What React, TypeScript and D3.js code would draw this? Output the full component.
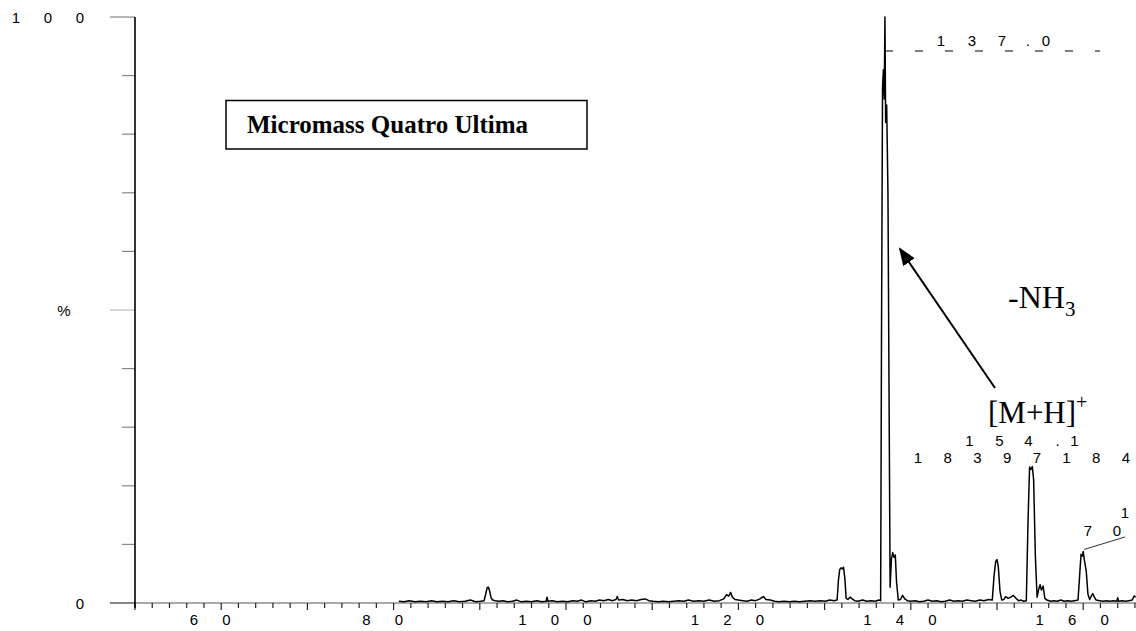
import React from 'react';
import * as d3 from 'd3';

// Mass spectrum profile: [m/z, relative intensity %]
const spectrum: [number, number][] = [
  [80.6, 0.3], [81.2, 0.2], [81.8, 0.4], [82.5, 0.2], [83.1, 0.3], [83.8, 0.2], [84.4, 0.4], [85.0, 0.2],
  [85.7, 0.3], [86.3, 0.2], [87.0, 0.4], [87.6, 0.2], [88.3, 0.3], [88.9, 0.5], [89.5, 0.2], [90.1, 0.3],
  [90.5, 0.4], [90.7, 1.6], [90.85, 2.6], [91.0, 2.7], [91.15, 2.0], [91.3, 0.9], [91.5, 0.5], [91.8, 0.4],
  [92.2, 0.3], [92.7, 0.4], [93.2, 0.2], [93.8, 0.3], [94.3, 0.5], [94.8, 0.2], [95.4, 0.3], [96.0, 0.2],
  [96.6, 0.4], [97.2, 0.2], [97.7, 0.3], [97.8, 1.0], [97.9, 0.3], [98.4, 0.4], [99.0, 0.2], [99.6, 0.3],
  [100.2, 0.2], [100.8, 0.4], [101.3, 0.3], [101.8, 0.5], [102.3, 0.2], [102.9, 0.4], [103.4, 0.3], [103.9, 0.5],
  [104.4, 0.4], [104.9, 0.6], [105.4, 0.4], [105.8, 0.6], [105.95, 1.1], [106.1, 0.5], [106.6, 0.6], [107.1, 0.4],
  [107.6, 0.5], [108.2, 0.4], [108.7, 0.6], [109.2, 0.7], [109.6, 0.4], [110.1, 0.3], [110.7, 0.2], [111.3, 0.3],
  [111.9, 0.2], [112.5, 0.3], [113.1, 0.4], [113.7, 0.3], [114.2, 0.5], [114.8, 0.3], [115.4, 0.4], [116.0, 0.3],
  [116.6, 0.5], [117.2, 0.3], [117.8, 0.4], [118.3, 0.7], [118.6, 1.4], [118.9, 1.2], [119.1, 1.8], [119.3, 1.0],
  [119.6, 0.6], [120.0, 0.5], [120.5, 0.4], [121.0, 0.3], [121.5, 0.5], [122.0, 0.4], [122.5, 0.7], [122.9, 1.1],
  [123.2, 0.6], [123.7, 0.5], [124.2, 0.3], [124.7, 0.2], [125.3, 0.3], [125.9, 0.2], [126.5, 0.3], [127.1, 0.2],
  [127.7, 0.3], [128.3, 0.4], [128.9, 0.3], [129.5, 0.4], [130.1, 0.3], [130.6, 0.5], [131.1, 0.4], [131.45, 0.5],
  [131.6, 3.8], [131.75, 5.7], [131.9, 6.0], [132.05, 5.8], [132.2, 6.1], [132.35, 4.2], [132.5, 0.8], [132.7, 0.6],
  [132.95, 1.0], [133.2, 0.7], [133.5, 0.4], [133.9, 0.3], [134.4, 0.5], [134.9, 0.3], [135.4, 0.4], [135.9, 0.3],
  [136.3, 0.5], [136.5, 0.4], [136.6, 45], [136.72, 88], [136.82, 91], [136.92, 86], [137.0, 100], [137.08, 82],
  [137.2, 85], [137.35, 70], [137.6, 2.7], [137.75, 7.5], [137.9, 8.6], [138.05, 7.8], [138.2, 8.2], [138.35, 3.5],
  [138.55, 0.5], [138.8, 0.6], [139.05, 1.3], [139.3, 0.7], [139.6, 0.4], [140.0, 0.3], [140.5, 0.4], [141.0, 0.2],
  [141.5, 0.3], [142.0, 0.5], [142.5, 0.3], [143.0, 0.4], [143.5, 0.2], [144.0, 0.3], [144.5, 0.5], [145.0, 0.3],
  [145.5, 0.4], [146.0, 0.3], [146.5, 0.5], [147.0, 0.4], [147.5, 0.3], [148.0, 0.5], [148.5, 0.4], [149.0, 0.6],
  [149.45, 0.5], [149.65, 4.5], [149.85, 7.1], [150.0, 7.4], [150.15, 6.2], [150.35, 2.0], [150.55, 0.5], [150.8, 0.6],
  [151.0, 1.1], [151.3, 0.8], [151.6, 1.0], [151.9, 1.3], [152.2, 0.8], [152.5, 0.4], [152.8, 0.5], [153.1, 0.3],
  [153.4, 0.4], [153.6, 14], [153.78, 23.2], [153.95, 22.8], [154.1, 23.3], [154.25, 21], [154.45, 8], [154.65, 1.0],
  [154.85, 2.4], [155.0, 3.1], [155.15, 2.2], [155.35, 2.9], [155.55, 0.8], [155.8, 0.5], [156.2, 0.3], [156.6, 0.4],
  [157.0, 0.3], [157.4, 0.5], [157.8, 0.3], [158.2, 0.4], [158.6, 0.3], [159.0, 0.4], [159.4, 0.5], [159.6, 5.0],
  [159.75, 8.3], [159.9, 8.0], [160.0, 8.8], [160.15, 7.2], [160.35, 5.5], [160.55, 1.5], [160.75, 0.6], [160.95, 1.2],
  [161.1, 1.6], [161.3, 1.0], [161.5, 0.5], [161.9, 0.4], [162.3, 0.3], [162.7, 0.4], [163.1, 0.3], [163.5, 0.4],
  [163.9, 0.3], [164.0, 0.9], [164.1, 0.3], [164.5, 0.4], [164.9, 0.3], [165.3, 0.4], [165.7, 0.5], [165.9, 1.2],
  [166.1, 1.0],
];

const xTickLabels = [60, 80, 100, 120, 140, 160];
const yTickValues = [0, 10, 20, 30, 40, 50, 60, 70, 80, 90, 100];
const yLabelTop = '100';
const yLabelBottom = '0';
const yAxisTitle = '%';
const basePeak = { mz: 137.0, label: '137.0' };
const mhPeak = { mz: 154.0, label: '154.1', extra: '18397184' };
const rightPeak = { mz: 160.0, pct: 8.8 };
const instrument = 'Micromass Quatro Ultima';

const SANS = 'Arial, "Liberation Sans", sans-serif';
const SERIF = '"Times New Roman", "Liberation Serif", serif';

export default function App() {
  const W = 1136;
  const H = 631;
  const x = d3.scaleLinear().domain([50, 166.125]).range([135, 1136]);
  const y = d3.scaleLinear().domain([0, 100]).range([603, 17]);
  const line = d3
    .line<[number, number]>()
    .x((d) => x(d[0]))
    .y((d) => y(d[1]));

  const minorX = d3.range(50, 167, 2);
  const charStep = 32.5;

  const spaced = (s: string, cx: number, cy: number, step: number, key: string) =>
    s.split('').map((c, i) => (
      <text
        key={key + i}
        x={cx + (i - (s.length - 1) / 2) * step}
        y={cy}
        textAnchor="middle"
        dominantBaseline="central"
        fontFamily={SANS}
        fontSize={15}
        fill="#000"
      >
        {c}
      </text>
    ));

  const px137 = x(basePeak.mz);
  const px154 = x(mhPeak.mz);
  const baseOffsets = [56, 87, 117, 143, 161];
  const mhOffsets = [-62, -32, -3, 26, 43];

  return (
    <svg
      width={W}
      height={H}
      style={{ position: 'absolute', left: 0, top: 0, background: '#fff' }}
    >
      {/* y axis ticks */}
      {yTickValues.map((v) => {
        const long = v === 100 || v === 50 || v === 0;
        return (
          <line
            key={'yt' + v}
            x1={long ? 110 : 122}
            x2={135}
            y1={y(v)}
            y2={y(v)}
            stroke={v === 50 ? '#bbb' : '#888'}
            strokeWidth={1.2}
          />
        );
      })}
      {/* x axis */}
      <line x1={110} x2={W} y1={y(0)} y2={y(0)} stroke="#555" strokeWidth={1} />
      {minorX.map((v) => (
        <line
          key={'xt' + v}
          x1={x(v)}
          x2={x(v)}
          y1={y(0)}
          y2={y(0) + (v % 10 === 0 ? 7 : 5)}
          stroke="#222"
          strokeWidth={1.2}
        />
      ))}
      {/* y axis line */}
      <line x1={135} x2={135} y1={y(100)} y2={y(0) + 5} stroke="#000" strokeWidth={1.6} />

      {/* tick labels */}
      {xTickLabels.map((v) => spaced(String(v), x(v) - 11, 619, charStep, 'xl' + v))}
      {yLabelTop.split('').map((c, i) => (
        <text key={'yl' + i} x={80 - (yLabelTop.length - 1 - i) * 32} y={y(100)} textAnchor="middle"
          dominantBaseline="central" fontFamily={SANS} fontSize={15}>{c}</text>
      ))}
      <text x={80} y={y(0)} textAnchor="middle" dominantBaseline="central" fontFamily={SANS} fontSize={15}>
        {yLabelBottom}
      </text>
      <text x={64} y={y(50)} textAnchor="middle" dominantBaseline="central" fontFamily={SANS} fontSize={15}>
        {yAxisTitle}
      </text>

      {/* spectrum */}
      <path d={line(spectrum) || ''} fill="none" stroke="#000" strokeWidth={1.5} strokeLinejoin="round" />

      {/* base peak label */}
      <line x1={px137} x2={px137 + 215} y1={51} y2={51} stroke="#000" strokeWidth={1} strokeDasharray="8,22" />
      {basePeak.label.split('').map((c, i) => (
        <text key={'bp' + i} x={px137 + baseOffsets[i]} y={40} textAnchor="middle" dominantBaseline="central"
          fontFamily={SANS} fontSize={15}>{c}</text>
      ))}

      {/* [M+H]+ peak labels */}
      {mhPeak.label.split('').map((c, i) => (
        <text key={'mh' + i} x={px154 + mhOffsets[i]} y={440} textAnchor="middle" dominantBaseline="central"
          fontFamily={SANS} fontSize={15}>{c}</text>
      ))}
      {mhPeak.extra.split('').map((c, i) => (
        <text key={'mx' + i} x={918 + i * 29.7} y={457} textAnchor="middle" dominantBaseline="central"
          fontFamily={SANS} fontSize={15}>{c}</text>
      ))}

      {/* right peak label */}
      <line x1={x(rightPeak.mz) + 1} y1={y(rightPeak.pct) - 2} x2={1125} y2={537} stroke="#000" strokeWidth={0.8} />
      <text x={1125} y={512} textAnchor="middle" dominantBaseline="central" fontFamily={SANS} fontSize={15}>1</text>
      <text x={1088} y={530} textAnchor="middle" dominantBaseline="central" fontFamily={SANS} fontSize={15}>7</text>
      <text x={1117} y={530} textAnchor="middle" dominantBaseline="central" fontFamily={SANS} fontSize={15}>0</text>

      {/* instrument box */}
      <rect x={226} y={100.5} width={361} height={48.5} fill="#fff" stroke="#000" strokeWidth={1.5} />
      <text x={247} y={133} fontFamily={SERIF} fontWeight="bold" fontSize={25}>
        {instrument}
      </text>

      {/* -NH3 annotation */}
      <text x={1008} y={308} fontFamily={SERIF} fontSize={32}>
        -NH<tspan fontSize={21} dy={8}>3</tspan>
      </text>
      <defs>
        <marker id="arrowhead" markerWidth="18" markerHeight="14" refX="16" refY="7" orient="auto" markerUnits="userSpaceOnUse">
          <path d="M0,0 L18,7 L0,14 Z" fill="#000" />
        </marker>
      </defs>
      <line x1={995} y1={388} x2={900} y2={249} stroke="#000" strokeWidth={2} markerEnd="url(#arrowhead)" />

      {/* [M+H]+ */}
      <text x={988} y={423} fontFamily={SERIF} fontSize={31}>
        [M+H]<tspan fontSize={20} dy={-14}>+</tspan>
      </text>
    </svg>
  );
}
